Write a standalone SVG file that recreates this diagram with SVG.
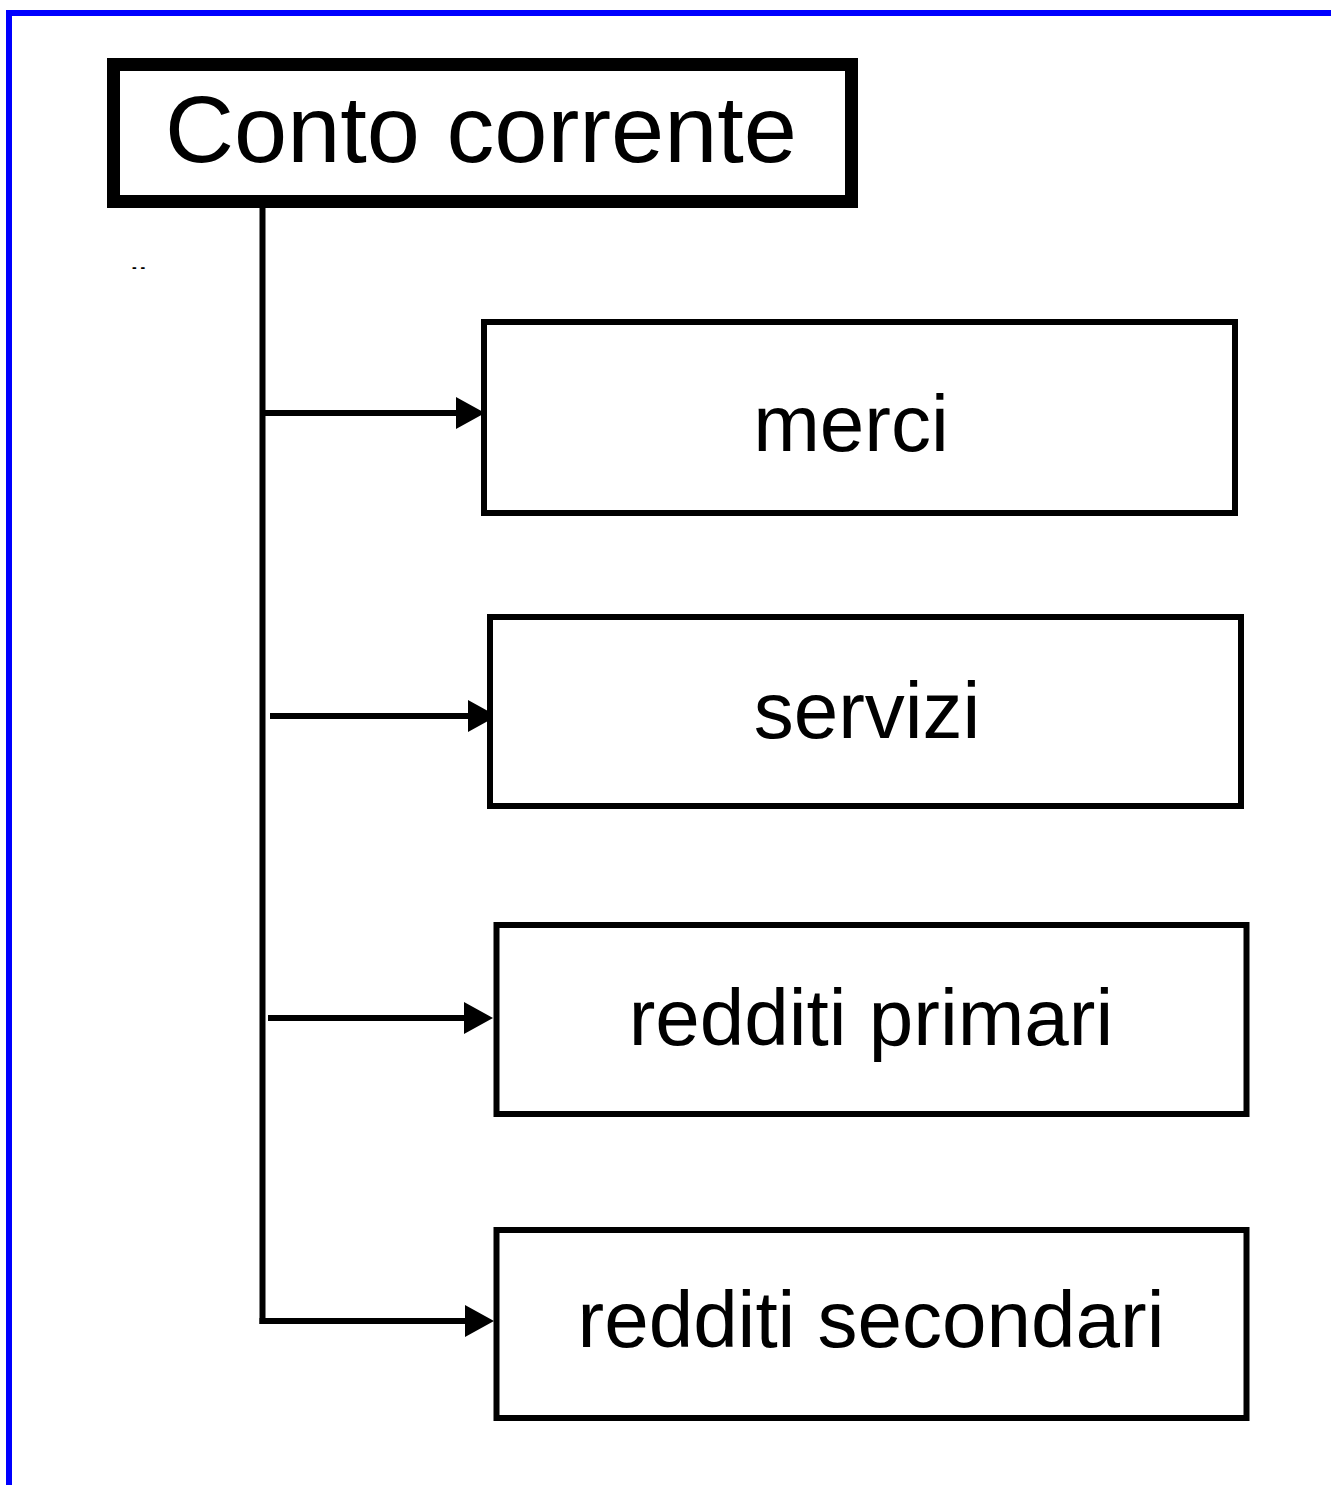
<svg xmlns="http://www.w3.org/2000/svg" width="1331" height="1485" viewBox="0 0 1331 1485">
<defs>
<style>
.box{fill:#fff;stroke:#000;stroke-width:6}
.lbl{font-family:"Liberation Sans",Arial,sans-serif;font-size:80px;fill:#000;text-anchor:middle}
.conn{stroke:#000;stroke-width:6;fill:none}
</style>
<marker id="ah" markerUnits="userSpaceOnUse" markerWidth="30" markerHeight="32" refX="2" refY="16" orient="auto">
<path d="M0,0 L29,16 L0,32 Z" fill="#000"/>
</marker>
</defs>
<rect width="1331" height="1485" fill="#fff"/>
<path d="M9,1485 V13 H1331" fill="none" stroke="#0000ff" stroke-width="6"/>
<g id="conto-corrente">
<rect x="113.5" y="64.5" width="738" height="137" fill="#fff" stroke="#000" stroke-width="13"/>
<text x="481" y="162" font-family="Liberation Sans, Arial, sans-serif" font-size="95" text-anchor="middle" textLength="632" lengthAdjust="spacingAndGlyphs">Conto corrente</text>
</g>
<text x="132" y="272" font-family="Liberation Sans, Arial, sans-serif" font-size="14" font-weight="bold">- -</text>
<g id="connectors">
<line class="conn" x1="262.5" y1="208" x2="262.5" y2="1324"/>
<line class="conn" x1="262" y1="413" x2="458" y2="413" marker-end="url(#ah)"/>
<line class="conn" x1="270" y1="716" x2="470" y2="716" marker-end="url(#ah)"/>
<line class="conn" x1="268" y1="1018" x2="466" y2="1018" marker-end="url(#ah)"/>
<line class="conn" x1="259.5" y1="1321" x2="467" y2="1321" marker-end="url(#ah)"/>
</g>
<g id="merci">
<rect class="box" x="484" y="322" width="751" height="191"/>
<text class="lbl" x="851" y="451">merci</text>
</g>
<g id="servizi">
<rect class="box" x="490" y="617" width="751" height="189"/>
<text class="lbl" x="867" y="738">servizi</text>
</g>
<g id="redditi-primari">
<rect class="box" x="496.5" y="925" width="750" height="189"/>
<text class="lbl" x="871" y="1045">redditi primari</text>
</g>
<g id="redditi-secondari">
<rect class="box" x="496.5" y="1230" width="750" height="188"/>
<text class="lbl" x="871" y="1347">redditi secondari</text>
</g>
</svg>
